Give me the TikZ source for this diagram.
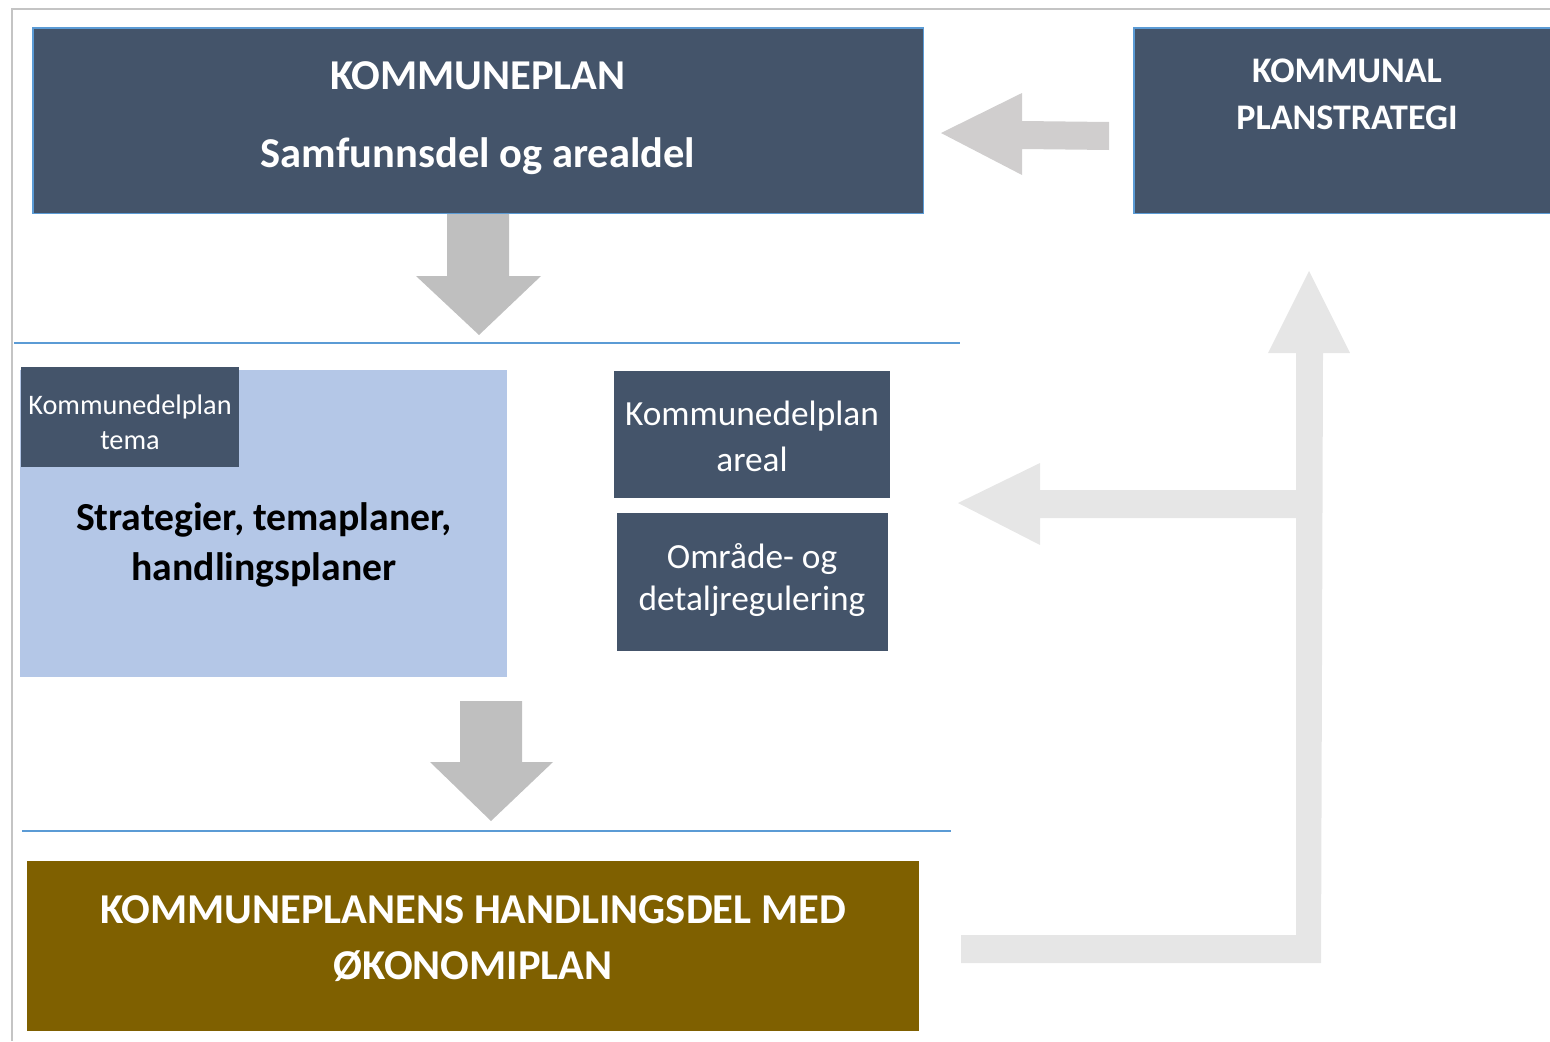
\documentclass[tikz,border=0pt]{standalone}
\usepackage{fontspec}
\setmainfont{Carlito}

\definecolor{slate}{HTML}{44546A}
\definecolor{edgeblue}{HTML}{5B9BD5}
\definecolor{paleblue}{HTML}{B4C7E7}
\definecolor{olive}{HTML}{7F6000}
\definecolor{arrowgray}{HTML}{BFBFBF}
\definecolor{arrowmid}{HTML}{D0CECE}
\definecolor{arrowpale}{HTML}{E6E6E6}
\definecolor{framegray}{HTML}{C4C4C4}

\begin{document}
\begin{tikzpicture}
[
	x=0.02cm,y=-0.02cm,
	box/.style={fill=slate,inner sep=0pt,outer sep=0pt,anchor=north west},
	edgebox/.style={box,draw=edgeblue,line width=0.6pt},
	bigtxt/.style={text=white,font=\fontsize{24.2}{29}\selectfont\bfseries},
	midtxt/.style={text=white,font=\fontsize{20.1}{24}\selectfont},
	smalltxt/.style={text=white,font=\fontsize{16.1}{19}\selectfont},
	septxt/.style={font=\fontsize{22.6}{27}\selectfont\bfseries},
	sepline/.style={edgeblue,line width=0.7pt}
]
	\useasboundingbox (0,0) rectangle (1550,1041);

	% frame
	\draw[framegray,line width=0.9pt] (12,1041) -- (12,9) -- (1550,9);

	% top row
	\node[edgebox,minimum width=17.82cm,minimum height=3.72cm] (kplan) at (33,28) {};
	\node[bigtxt] (kplant1) at (478,76) {KOMMUNEPLAN};
	\node[bigtxt] (kplant2) at (478,156) {Samfunnsdel og arealdel};

	\node[edgebox,minimum width=8.4cm,minimum height=3.72cm] (strat) at (1134,28) {};
	\node[bigtxt,font=\fontsize{20.5}{24}\selectfont\bfseries] (stratt1) at (1347,71) {KOMMUNAL};
	\node[bigtxt,font=\fontsize{20.5}{24}\selectfont\bfseries] (stratt2) at (1347,118) {PLANSTRATEGI};

	\fill[arrowmid] (941,133) -- (1022,93) -- (1022,121) -- (1109,122) -- (1109,150)
		-- (1022,149) -- (1022,175) -- cycle;

	% down arrow 1
	\fill[arrowgray] (447,214) -- (509,214) -- (509,276) -- (541,276) -- (479,335)
		-- (416,276) -- (447,276) -- cycle;

	\draw[sepline] (14,343) -- (960,343);

	% middle row
	\node[box,fill=paleblue,minimum width=9.74cm,minimum height=6.14cm] (tema) at (20,370) {};
	\node[box,minimum width=4.36cm,minimum height=2cm] (temahead) at (21,367) {};
	\node[smalltxt] (temat1) at (130,407) {Kommunedelplan};
	\node[smalltxt] (temat2) at (130,441) {tema};
	\node[septxt] (temat3) at (264,520) {Strategier, temaplaner,};
	\node[septxt] (temat4) at (264,570) {handlingsplaner};

	\node[box,minimum width=5.52cm,minimum height=2.54cm] (areal) at (614,371) {};
	\node[midtxt] (arealt1) at (752,416) {Kommunedelplan};
	\node[midtxt] (arealt2) at (752,459) {areal};

	\node[box,minimum width=5.42cm,minimum height=2.76cm] (regul) at (617,513) {};
	\node[midtxt] (regult1) at (752,559) {Område- og};
	\node[midtxt] (regult2) at (752,601) {detaljregulering};

	% feedback arrow
	\fill[arrowpale] (961,935) -- (1296,935) -- (1296,518) -- (1040,518) -- (1040,545)
		-- (958,503) -- (1040,463) -- (1040,490) -- (1296,490) -- (1296,353)
		-- (1268,353) -- (1309,271) -- (1350,353) -- (1323,353) -- (1321,963)
		-- (961,963) -- cycle;

	% down arrow 2
	\fill[arrowgray] (460,701) -- (522,701) -- (522,762) -- (553,762) -- (491,821)
		-- (430,762) -- (460,762) -- cycle;

	\draw[sepline] (22,831) -- (951,831);

	% bottom row
	\node[box,fill=olive,minimum width=17.84cm,minimum height=3.4cm] (handl) at (27,861) {};
	\node[bigtxt] (handlt1) at (473,910) {KOMMUNEPLANENS HANDLINGSDEL MED};
	\node[bigtxt] (handlt2) at (473,966) {ØKONOMIPLAN};

\end{tikzpicture}
\end{document}
